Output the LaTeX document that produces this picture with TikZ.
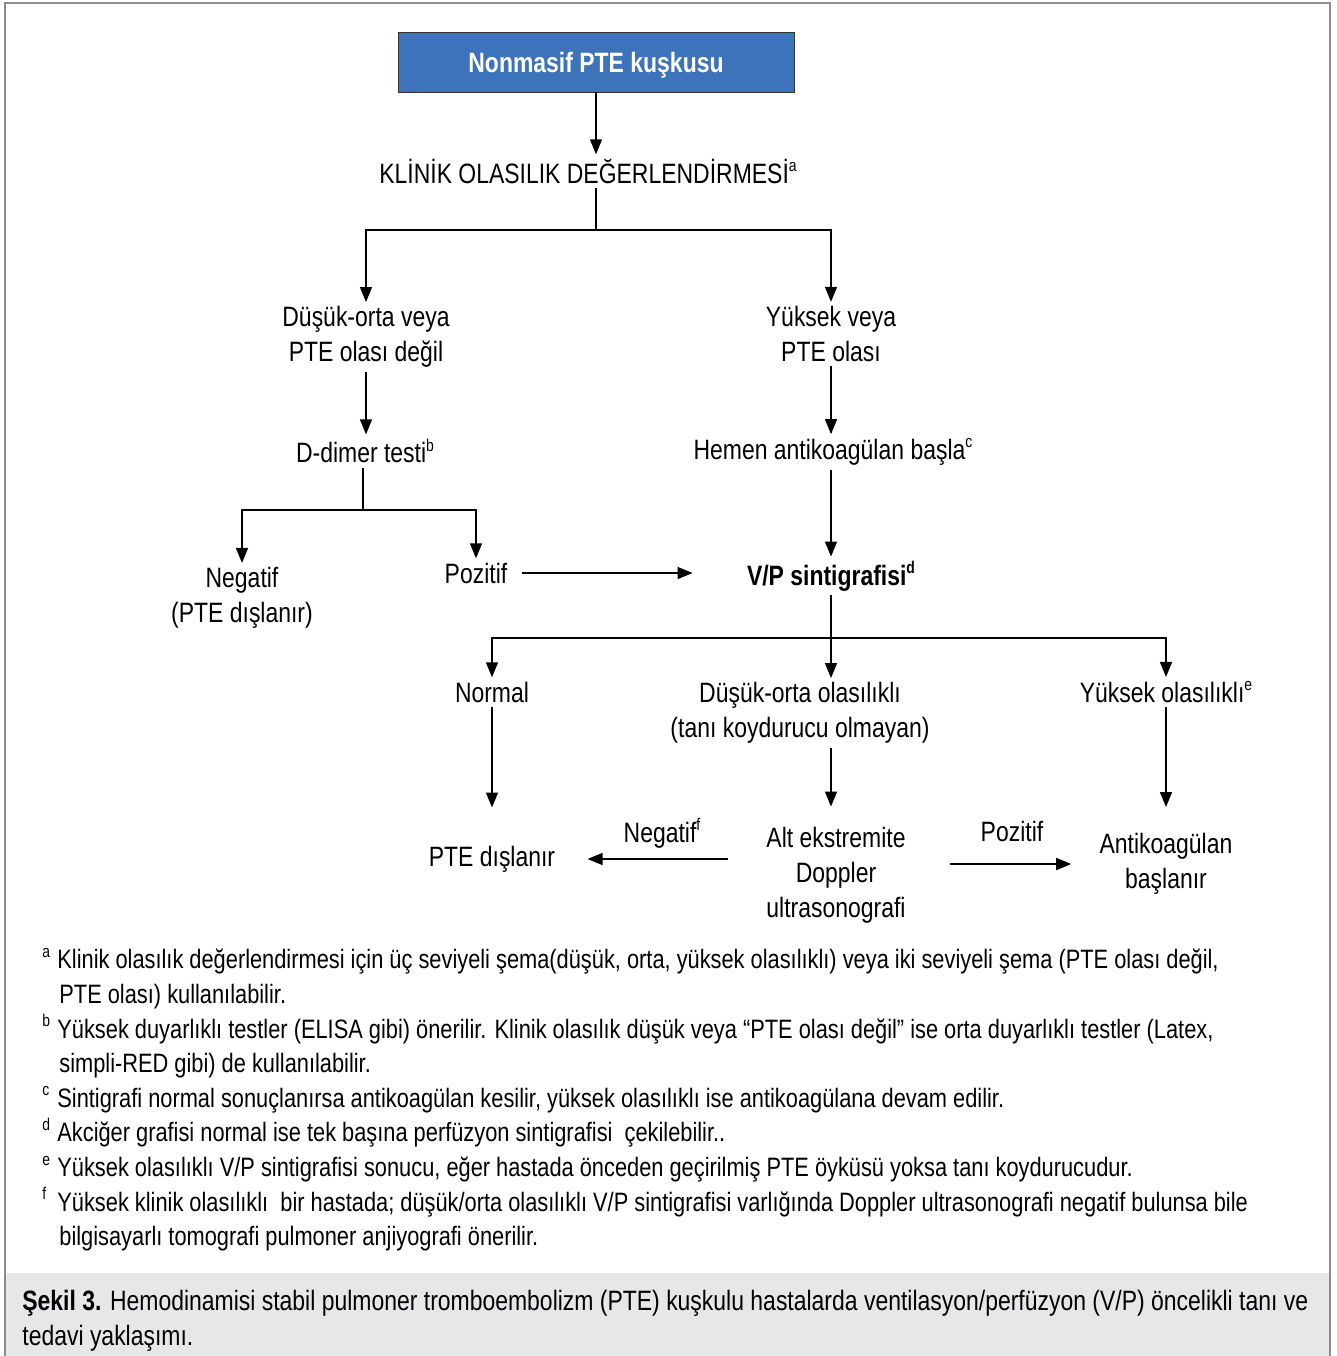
\documentclass[tikz,border=0pt]{standalone}
\usepackage{fontspec}
\setmainfont{Liberation Sans}[FakeStretch=0.82]
\usetikzlibrary{arrows.meta}
\definecolor{boxblue}{HTML}{3C73BA}
\definecolor{capgray}{HTML}{E6E7E8}
\definecolor{framegray}{HTML}{8C8C8C}
% small raised note mark
\newcommand\notemark[1]{\raisebox{0.8ex}{\fontsize{8.5}{8.5}\selectfont #1}}
\begin{document}
\begin{tikzpicture}[x=0.5pt,y=-0.5pt,
  lbl/.style={font=\fontsize{14}{17.5}\selectfont, inner sep=2pt, align=center},
  arr/.style={-{Triangle[length=7.5pt,width=6pt]}, line width=0.7pt},
  ln/.style={line width=0.7pt},
  txt/.style={font=\fontsize{13.3}{17.3}\selectfont, inner sep=0pt, align=left}]
\useasboundingbox (0,0) rectangle (1337,1356);
% frame and caption band
\fill[capgray] (5,1273) rectangle (1330,1356);
\draw[framegray, line width=0.8pt] (5,1356) -- (5,3) -- (1330,3) -- (1330,1356);

% nodes of the flow chart
\node[draw=black!80, fill=boxblue, minimum width=198pt, minimum height=30pt,
      text height=10pt, text depth=0pt,
      font=\fontsize{14}{17}\selectfont\bfseries, text=white] (start) at (596,62) {Nonmasif PTE kuşkusu};
\node[lbl] (klinik) at (588,171) {KLİNİK OLASILIK DEĞERLENDİRMESİ\notemark{a}};
\node[lbl] (low) at (366,337) {Düşük-orta veya\\PTE olası değil};
\node[lbl] (high) at (831,334) {Yüksek veya\\PTE olası};
\node[lbl] (dimer) at (365,451) {D-dimer testi\notemark{b}};
\node[lbl] (hemen) at (833,452) {Hemen antikoagülan başla\notemark{c}};
\node[lbl] (neg) at (242,598) {Negatif\\(PTE dışlanır)};
\node[lbl] (poz) at (476,573) {Pozitif};
\node[lbl, font=\fontsize{14}{17.5}\selectfont\bfseries] (vp) at (831,576) {V/P sintigrafisi\notemark{d}};
\node[lbl] (normal) at (492,692) {Normal};
\node[lbl] (mid) at (800,713) {Düşük-orta olasılıklı\\(tanı koydurucu olmayan)};
\node[lbl] (yuk) at (1166,692) {Yüksek olasılıklı\notemark{e}};
\node[lbl] (dis) at (492,859) {PTE dışlanır};
\node[lbl] (alt) at (836,875) {Alt ekstremite\\Doppler\\ultrasonografi};
\node[lbl] (anti) at (1166,864) {Antikoagülan\\başlanır};
\node[lbl] (negf) at (662,833) {Negatif\notemark{f}};
\node[lbl] (pozd) at (1012,831) {Pozitif};

% junction points
\coordinate (j1) at (596,230);
\coordinate (j2) at (363,510);
\coordinate (j3) at (831,638);

% connectors
\draw[arr] (start.south) -- (start.south |- klinik.north);
\draw[ln] (start.south |- klinik.south) -- (j1);
\draw[arr] (j1) -| (low.north);
\draw[arr] (j1) -| (high.north);
\draw[arr] (low.south) -- (low.south |- dimer.north);
\draw[arr] (high.south) -- (high.south |- hemen.north);
\draw[ln] (dimer.south -| j2) -- (j2);
\draw[arr] (j2) -| (neg.north);
\draw[arr] (j2) -| (poz.north);
\draw[arr, shorten <=5pt, shorten >=25pt] (poz.east) -- (poz.east -| vp.west);
\draw[arr] (vp.north |- hemen.south) -- (vp.north);
\draw[ln] (vp.south) -- (j3);
\draw[arr] (j3) -| (normal.north);
\draw[arr] (j3) -- (j3 |- mid.north);
\draw[arr] (j3) -| (yuk.north);
\draw[arr, shorten >=17pt] (normal.south) -- (normal.south |- dis.north);
\draw[arr, shorten >=8pt] (j3 |- mid.south) -- (j3 |- alt.north);
\draw[arr, shorten >=11pt] (yuk.south) -- (yuk.south |- anti.north);
\draw[arr, shorten <=17pt, shorten >=14pt] (alt.west |- dis.east) -- (dis.east);
\draw[arr, shorten <=20pt, shorten >=12pt] (alt.east |- anti.west) -- (anti.west);

% footnotes
\node[txt, anchor=north west] (notes) at (42,948) {%
\makebox[7.5pt][l]{\notemark{a}}Klinik olasılık değerlendirmesi için üç seviyeli şema(düşük, orta, yüksek olasılıklı) veya iki seviyeli şema (PTE olası değil,\\
\hspace*{8.5pt}PTE olası) kullanılabilir.\\
\makebox[7.5pt][l]{\notemark{b}}Yüksek duyarlıklı testler (ELISA gibi) önerilir. Klinik olasılık düşük veya “PTE olası değil” ise orta duyarlıklı testler (Latex,\\
\hspace*{8.5pt}simpli-RED gibi) de kullanılabilir.\\
\makebox[7.5pt][l]{\notemark{c}}Sintigrafi normal sonuçlanırsa antikoagülan kesilir, yüksek olasılıklı ise antikoagülana devam edilir.\\
\makebox[7.5pt][l]{\notemark{d}}Akciğer grafisi normal ise tek başına perfüzyon sintigrafisi\ \ çekilebilir..\\
\makebox[7.5pt][l]{\notemark{e}}Yüksek olasılıklı V/P sintigrafisi sonucu, eğer hastada önceden geçirilmiş PTE öyküsü yoksa tanı koydurucudur.\\
\makebox[7.5pt][l]{\notemark{f}}Yüksek klinik olasılıklı\ \ bir hastada; düşük/orta olasılıklı V/P sintigrafisi varlığında Doppler ultrasonografi negatif bulunsa bile\\
\hspace*{8.5pt}bilgisayarlı tomografi pulmoner anjiyografi önerilir.};

% caption
\node[txt, font=\fontsize{14}{17.3}\selectfont, anchor=north west] (caption) at (22,1290) {%
\textbf{Şekil 3.} Hemodinamisi stabil pulmoner tromboembolizm (PTE) kuşkulu hastalarda ventilasyon/perfüzyon (V/P) öncelikli tanı ve\\
tedavi yaklaşımı.};
\end{tikzpicture}
\end{document}
